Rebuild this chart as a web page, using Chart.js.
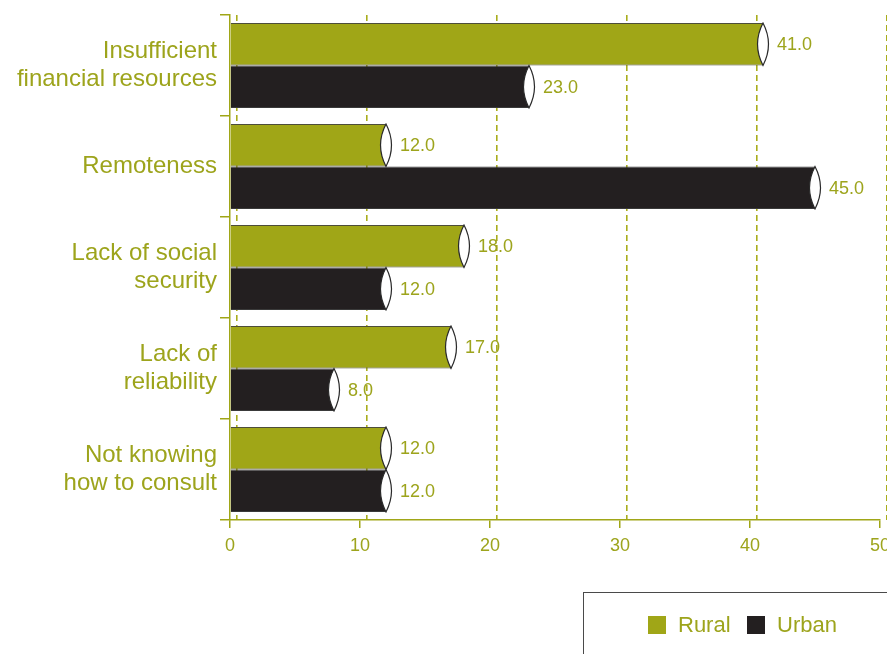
<!DOCTYPE html>
<html>
<head>
<meta charset="utf-8">
<script src="https://cdn.jsdelivr.net/npm/chart.js@4/dist/chart.umd.min.js"></script>
<style>
  html, body { margin: 0; padding: 0; background: #fff; overflow: hidden; }
  #wrap { position: relative; width: 887px; height: 654px; overflow: hidden; }
  #chart { position: absolute; left: 0; top: 0; }
  #legend {
    position: absolute; left: 583px; top: 592px; width: 330px; height: 80px;
    border: 1.5px solid #4a4a4a; box-sizing: border-box;
    font-family: "Liberation Sans", Arial, Helvetica, sans-serif; font-size: 22px; color: #9da41c;
  }
  #legend .item { position: absolute; top: 20px; display: flex; align-items: center; height: 24px; }
  #legend .sw { width: 18px; height: 18px; margin-right: 12px; }
</style>
</head>
<body>
<div id="wrap">
  <canvas id="chart" width="900" height="654" style="width:900px;height:654px"></canvas>
  <div id="legend"></div>
</div>
<script>
const categories = [
  ['Insufficient', 'financial resources'],
  'Remoteness',
  ['Lack of social', 'security'],
  ['Lack of', 'reliability'],
  ['Not knowing', 'how to consult']
];
const ruralValues = [41.0, 12.0, 18.0, 17.0, 12.0];
const urbanValues = [23.0, 45.0, 12.0, 8.0, 12.0];
const xTicks = [0, 10, 20, 30, 40, 50];

const olive = '#a0a617';
const oliveText = '#9da41c';
const black = '#231f20';
const fontFamily = '"Liberation Sans", Arial, Helvetica, sans-serif';
const gridShift = 0.55; // dashed grid sits a little right of the ticks (3D depth)

const capsAndLabels = {
  id: 'capsAndLabels',
  afterDatasetsDraw(chart) {
    const ctx = chart.ctx;
    ctx.save();
    chart.data.datasets.forEach((ds, di) => {
      const meta = chart.getDatasetMeta(di);
      meta.data.forEach((bar, i) => {
        const { x, y, height } = bar.getProps(['x', 'y', 'height'], true);
        const top = y - height / 2;
        const bottom = y + height / 2;
        ctx.beginPath();
        ctx.moveTo(x, top);
        ctx.quadraticCurveTo(x + 11, y, x, bottom);
        ctx.quadraticCurveTo(x - 11, y, x, top);
        ctx.closePath();
        ctx.fillStyle = '#ffffff';
        ctx.fill();
        ctx.lineWidth = 1.2;
        ctx.strokeStyle = '#2a2a2a';
        ctx.stroke();

        ctx.fillStyle = oliveText;
        ctx.font = '18px ' + fontFamily;
        ctx.textAlign = 'left';
        ctx.textBaseline = 'middle';
        ctx.fillText(ds.data[i].toFixed(1), x + 14, y + 1);
      });
    });
    ctx.restore();
  }
};

const chart = new Chart(document.getElementById('chart'), {
  type: 'bar',
  data: {
    labels: categories,
    datasets: [
      { label: 'Rural', data: ruralValues, backgroundColor: olive, borderColor: '#4d4d3a', borderWidth: 1 },
      { label: 'Urban', data: urbanValues, backgroundColor: black, borderColor: '#3a3a3a', borderWidth: 1 }
    ]
  },
  options: {
    indexAxis: 'y',
    responsive: false,
    animation: false,
    events: [],
    layout: { padding: { top: 15, right: 20, left: 0, bottom: 0 } },
    datasets: { bar: { barPercentage: 1, categoryPercentage: 0.84 } },
    plugins: { legend: { display: false }, tooltip: { enabled: false } },
    scales: {
      x: {
        type: 'linear', min: 0, max: 50,
        afterBuildTicks: (s) => { s.ticks = xTicks.map(v => ({ value: v })); },
        afterFit: (s) => { s.height = 134; },
        ticks: { color: oliveText, font: { family: fontFamily, size: 18 }, padding: 7 },
        grid: { drawOnChartArea: false, drawTicks: true, tickLength: 8, color: olive, lineWidth: 1.5 },
        border: { display: true, color: olive, width: 1.5 }
      },
      xGrid: {
        type: 'linear', position: 'top', axis: 'x',
        min: -gridShift, max: 50 - gridShift,
        afterBuildTicks: (s) => { s.ticks = xTicks.map(v => ({ value: v })); },
        afterFit: (s) => { s.height = 0; },
        ticks: { display: false },
        grid: { drawTicks: false, color: '#a9ad1c', lineWidth: 1.6 },
        border: { display: false, dash: [6, 4] }
      },
      y: {
        type: 'category', offset: true,
        afterFit: (s) => { s.width = 230; s.paddingTop = 0; s.paddingBottom = 0; },
        ticks: { color: oliveText, font: { family: fontFamily, size: 24, lineHeight: 1.17 }, padding: 3 },
        grid: { offset: true, drawOnChartArea: false, drawTicks: true, tickLength: 10, color: olive, lineWidth: 1.5 },
        border: { display: true, color: olive, width: 1.5 }
      }
    }
  },
  plugins: [capsAndLabels]
});

// legend built from the datasets
const legend = document.getElementById('legend');
const legendX = [64, 163];
chart.data.datasets.forEach((ds, i) => {
  const item = document.createElement('div');
  item.className = 'item';
  item.style.left = legendX[i] + 'px';
  const sw = document.createElement('span');
  sw.className = 'sw';
  sw.style.background = ds.backgroundColor;
  const txt = document.createElement('span');
  txt.textContent = ds.label;
  item.appendChild(sw);
  item.appendChild(txt);
  legend.appendChild(item);
});
</script>
</body>
</html>
